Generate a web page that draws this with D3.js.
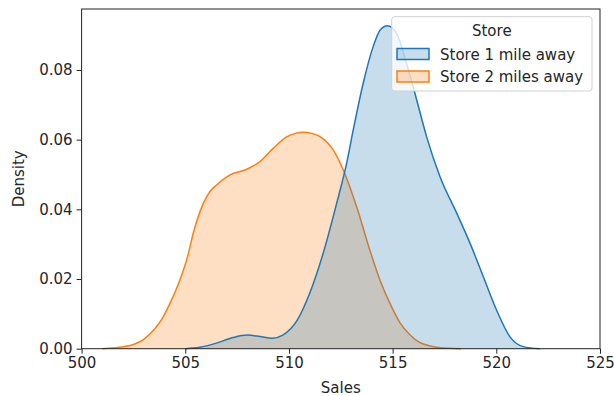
<!DOCTYPE html>
<html>
<head>
<meta charset="utf-8">
<script src="https://cdn.jsdelivr.net/npm/d3@7"></script>
<style>
  html, body { margin: 0; padding: 0; background: #fff; }
  svg { display: block; font-family: "DejaVu Sans", sans-serif; }
</style>
</head>
<body>
<svg id="chart" width="614" height="396"></svg>
<script>
// Kernel density estimates of daily sales, one curve per store
const store1Sales = [505.0, 505.7, 506.5, 507.3, 508.0, 508.6, 509.2, 509.7, 510.4, 511.0, 511.65, 512.3, 512.78, 513.1, 513.58, 514.06, 514.4, 514.75, 515.19, 515.67, 516.16, 516.64, 517.28, 518.09, 518.73, 519.37, 520.01, 520.66, 521.3, 522.1];
const store1Density = [0, 0.0004, 0.0016, 0.0032, 0.0039, 0.0035, 0.0030, 0.0039, 0.0082, 0.0159, 0.0274, 0.0417, 0.0532, 0.0628, 0.0762, 0.0867, 0.0915, 0.0927, 0.0905, 0.0819, 0.0714, 0.0608, 0.0494, 0.0389, 0.0303, 0.0207, 0.0111, 0.0034, 0.0006, 0];

const store2Sales = [501.0, 501.8, 502.5, 503.0, 503.5, 503.9, 504.3, 504.74, 505.1, 505.4, 505.87, 506.2, 506.51, 507.16, 507.96, 508.6, 509.24, 509.89, 510.3, 510.69, 511.1, 511.5, 512.14, 512.62, 513.26, 513.9, 514.4, 514.87, 515.35, 515.83, 516.3, 516.8, 517.3, 518.3];
const store2Density = [0, 0.0004, 0.0012, 0.0027, 0.0055, 0.0088, 0.0135, 0.0197, 0.0262, 0.0335, 0.0417, 0.0452, 0.0470, 0.0499, 0.0515, 0.0537, 0.0575, 0.0608, 0.0618, 0.0621, 0.0618, 0.0609, 0.0570, 0.0513, 0.0408, 0.0283, 0.0195, 0.0130, 0.0075, 0.0040, 0.0018, 0.0008, 0.0003, 0];

const storeNames = ["Store 1 mile away", "Store 2 miles away"];
const storeColors = ["#1f77b4", "#ff7f0e"];

const xTicks = [500, 505, 510, 515, 520, 525];
const yTicks = [0, 0.02, 0.04, 0.06, 0.08];

const svg = d3.select("#chart");
const plotLeft = 81.6, plotRight = 600, plotTop = 9, plotBottom = 348.7;

const x = d3.scaleLinear().domain([500, 525]).range([plotLeft, plotRight]);
const y = d3.scaleLinear().domain([0, 0.0975]).range([plotBottom, plotTop]);

const series = [
  { name: storeNames[0], color: storeColors[0], pts: store1Sales.map((v, i) => [v, store1Density[i]]) },
  { name: storeNames[1], color: storeColors[1], pts: store2Sales.map((v, i) => [v, store2Density[i]]) }
];

const area = d3.area()
  .x(d => x(d[0])).y0(y(0)).y1(d => y(d[1]))
  .curve(d3.curveMonotoneX);
const line = d3.line()
  .x(d => x(d[0])).y(d => y(d[1]))
  .curve(d3.curveMonotoneX);

// Later hue drawn first so the first store sits on top
const plot = svg.append("g");
[series[1], series[0]].forEach(s => {
  plot.append("path").attr("d", area(s.pts))
    .attr("fill", s.color).attr("fill-opacity", 0.25);
  plot.append("path").attr("d", line(s.pts))
    .attr("fill", "none").attr("stroke", s.color).attr("stroke-width", 1.5);
});

const textColor = "#262626";

// Axes
const xAxis = svg.append("g").attr("transform", `translate(0,${plotBottom})`)
  .call(d3.axisBottom(x).tickValues(xTicks).tickFormat(d3.format("d")).tickSize(5).tickPadding(4));
const yAxis = svg.append("g").attr("transform", `translate(${plotLeft},0)`)
  .call(d3.axisLeft(y).tickValues(yTicks).tickFormat(d3.format(".2f")).tickSize(5).tickPadding(4));
[xAxis, yAxis].forEach(a => {
  a.select(".domain").remove();
  a.selectAll("line").attr("stroke", "#222").attr("stroke-width", 1);
  a.selectAll("text").attr("fill", textColor).style("font-size", "15px").style("font-family", "DejaVu Sans");
});

// Frame
svg.append("rect").attr("x", plotLeft).attr("y", plotTop)
  .attr("width", plotRight - plotLeft).attr("height", plotBottom - plotTop)
  .attr("fill", "none").attr("stroke", "#222").attr("stroke-width", 1);

// Axis titles
svg.append("text").attr("x", (plotLeft + plotRight) / 2).attr("y", 393)
  .attr("text-anchor", "middle").attr("fill", textColor).style("font-size", "15px")
  .text("Sales");
svg.append("text").attr("transform", `translate(24,${(plotTop + plotBottom) / 2}) rotate(-90)`)
  .attr("text-anchor", "middle").attr("fill", textColor).style("font-size", "15px")
  .text("Density");

// Legend
const lg = svg.append("g");
lg.append("rect").attr("x", 391.7).attr("y", 16.7).attr("width", 200.3).attr("height", 74.3)
  .attr("rx", 3).attr("fill", "#fff").attr("fill-opacity", 0.8)
  .attr("stroke", "#d0d0d0").attr("stroke-width", 1);
lg.append("text").attr("x", 491.8).attr("y", 36).attr("text-anchor", "middle")
  .attr("fill", textColor).style("font-size", "15px").text("Store");
series.forEach((s, i) => {
  const yy = 48.5 + i * 22.5;
  lg.append("rect").attr("x", 397).attr("y", yy).attr("width", 32).attr("height", 11)
    .attr("fill", s.color).attr("fill-opacity", 0.25)
    .attr("stroke", s.color).attr("stroke-width", 1.5);
  lg.append("text").attr("x", 440).attr("y", yy + 11).attr("fill", textColor)
    .style("font-size", "15px").text(s.name);
});
</script>
</body>
</html>
